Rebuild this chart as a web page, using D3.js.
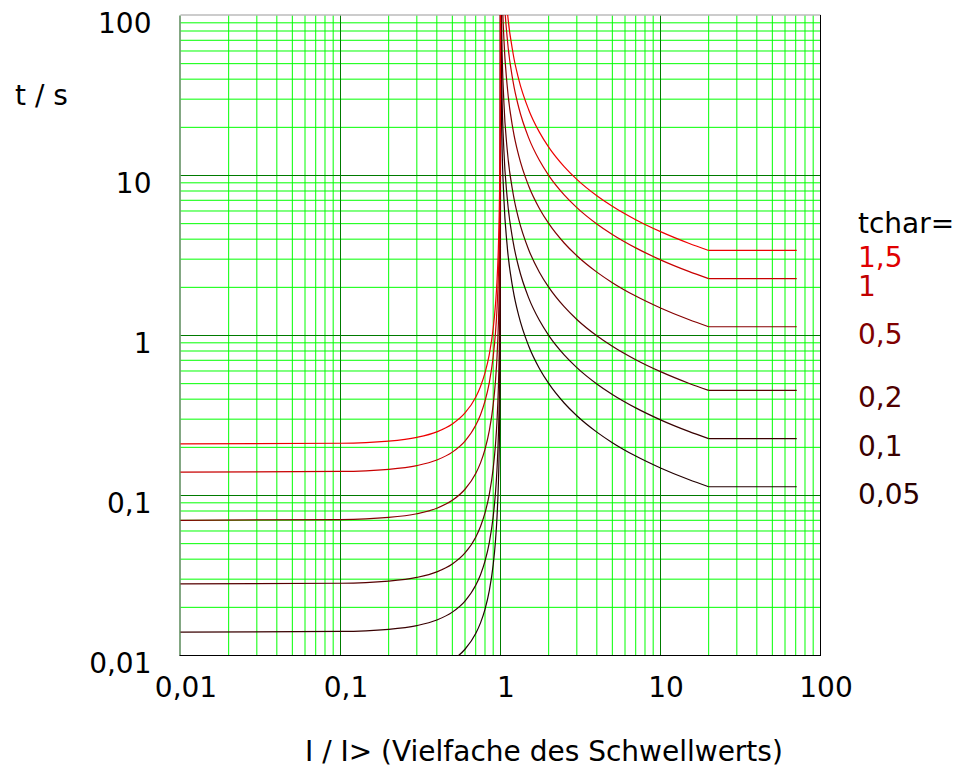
<!DOCTYPE html>
<html>
<head>
<meta charset="utf-8">
<script src="https://cdn.jsdelivr.net/npm/d3@7"></script>
<style>
  html, body { margin: 0; padding: 0; background: #fff; }
  svg { display: block; font-family: "DejaVu Sans", sans-serif; }
</style>
</head>
<body>
<svg id="chart" width="960" height="771"></svg>
<script>
// ---- data ----
const currentMultiples = [0.01, 0.1, 0.2, 0.3, 0.4, 0.5, 0.6, 0.7, 0.75, 0.8, 0.85, 0.9, 0.93, 0.95, 0.97, 0.98, 0.99, 0.995, 0.998, 0.999, 0.9995,
  1,
  1.002, 1.005, 1.01, 1.02, 1.05, 1.1, 1.2, 1.3, 1.5, 1.75, 2, 2.5, 3, 4, 5, 7, 10, 15, 20, 71];

const t_1_5 = [0.2100, 0.2121, 0.2187, 0.2308, 0.2500, 0.2800, 0.3281, 0.4118, 0.4800, 0.5833, 0.7568, 1.1053, 1.5545, 2.1538, 3.5534, 5.3031, 10.553, 21.053, 52.553, 105.05, 210.0,
  10000,
  5254, 2105, 1055, 530.1, 215.1, 110.1, 57.48, 39.92, 25.79, 18.66, 15.04, 11.36, 9.453, 7.470, 6.420, 5.292, 4.457, 3.773, 3.401, 3.401];
const t_1 = [0.1400, 0.1414, 0.1458, 0.1538, 0.1667, 0.1867, 0.2188, 0.2745, 0.3200, 0.3889, 0.5045, 0.7368, 1.0363, 1.4359, 2.3689, 3.5354, 7.035, 14.035, 35.035, 70.035, 140.0,
  10000,
  3503, 1403.5, 703.5, 353.4, 143.4, 73.38, 38.32, 26.61, 17.19, 12.44, 10.03, 7.570, 6.302, 4.980, 4.280, 3.528, 2.971, 2.516, 2.267, 2.267];
const t_0_5 = [0.0700, 0.0707, 0.0729, 0.0769, 0.0833, 0.0933, 0.1094, 0.1373, 0.1600, 0.1944, 0.2523, 0.3684, 0.5182, 0.7180, 1.1845, 1.7677, 3.5176, 7.0175, 17.518, 35.018, 70.0,
  10000,
  1751.5, 701.8, 351.8, 176.7, 71.7, 36.69, 19.16, 13.31, 8.595, 6.220, 5.015, 3.785, 3.151, 2.490, 2.140, 1.764, 1.486, 1.258, 1.134, 1.134];
const t_0_2 = [0.0280, 0.02828, 0.02917, 0.03077, 0.03333, 0.03733, 0.04375, 0.0549, 0.0640, 0.07778, 0.1009, 0.1474, 0.2073, 0.2872, 0.4738, 0.7071, 1.407, 2.807, 7.007, 14.007, 28.0,
  10000,
  700.6, 280.7, 140.7, 70.68, 28.68, 14.68, 7.664, 5.322, 3.438, 2.488, 2.006, 1.514, 1.260, 0.996, 0.856, 0.7056, 0.5942, 0.5031, 0.4535, 0.4535];
const t_0_1 = [0.0140, 0.01414, 0.01458, 0.01538, 0.01667, 0.01867, 0.02188, 0.02745, 0.0320, 0.03889, 0.05045, 0.07368, 0.1036, 0.1436, 0.2369, 0.3535, 0.7035, 1.4035, 3.5035, 7.0035, 14.0,
  10000,
  350.3, 140.35, 70.35, 35.34, 14.34, 7.338, 3.832, 2.661, 1.719, 1.244, 1.003, 0.757, 0.6302, 0.498, 0.428, 0.3528, 0.2971, 0.2516, 0.2267, 0.2267];
const t_0_05 = [0.0070, 0.00707, 0.00729, 0.00769, 0.00833, 0.00933, 0.01094, 0.01373, 0.0160, 0.01944, 0.02523, 0.03684, 0.05182, 0.0718, 0.1184, 0.1768, 0.3518, 0.7018, 1.7518, 3.5018, 7.0,
  10000,
  175.2, 70.18, 35.18, 17.67, 7.17, 3.669, 1.916, 1.331, 0.8595, 0.622, 0.5015, 0.3785, 0.3151, 0.249, 0.214, 0.1764, 0.1486, 0.1258, 0.1134, 0.1134];

const tcharLabels = ["1,5", "1", "0,5", "0,2", "0,1", "0,05"];
const tcharSeries = [t_1_5, t_1, t_0_5, t_0_2, t_0_1, t_0_05];
const tcharColors = ["#ee0000", "#c80000", "#860000", "#560000", "#380000", "#220000"];
const labelColors = ["#e00000", "#c00000", "#800000", "#500000", "#3a0000", "#2a0000"];

const xTickValues = [0.01, 0.1, 1, 10, 100];
const yTickValues = [0.01, 0.1, 1, 10, 100];

// ---- layout ----
const svg = d3.select("#chart");
const L = 180.5, R = 820.5, T = 15.5, B = 655.5;
const x = d3.scaleLog().domain([0.01, 100]).range([L, R]);
const y = d3.scaleLog().domain([0.01, 100]).range([B, T]);
const isDecade = v => Math.abs(Math.log10(v) - Math.round(Math.log10(v))) < 1e-9;

// grid
const gGrid = svg.append("g");
const xt = x.ticks(), yt = y.ticks();
gGrid.selectAll("line.vx").data(xt.filter(v => !isDecade(v))).join("line")
  .attr("class", "vx")
  .attr("x1", d => x(d)).attr("x2", d => x(d)).attr("y1", T).attr("y2", B)
  .attr("stroke", "#00ff00").attr("stroke-width", 1);
gGrid.selectAll("line.hy").data(yt.filter(v => !isDecade(v))).join("line")
  .attr("class", "hy")
  .attr("y1", d => y(d)).attr("y2", d => y(d)).attr("x1", L).attr("x2", R)
  .attr("stroke", "#00ff00").attr("stroke-width", 1);
gGrid.selectAll("line.dx").data(xt.filter(v => isDecade(v) && v > 0.01 && v < 100)).join("line")
  .attr("class", "dx")
  .attr("x1", d => x(d)).attr("x2", d => x(d)).attr("y1", T).attr("y2", B)
  .attr("stroke", "#007a00").attr("stroke-width", 1);
gGrid.selectAll("line.dy").data(yt.filter(v => isDecade(v) && v > 0.01 && v < 100)).join("line")
  .attr("class", "dy")
  .attr("y1", d => y(d)).attr("y2", d => y(d)).attr("x1", L).attr("x2", R)
  .attr("stroke", "#007a00").attr("stroke-width", 1);

// frame
svg.append("line").attr("x1", L).attr("x2", R).attr("y1", T - 0.5).attr("y2", T - 0.5).attr("stroke", "#999").attr("stroke-width", 1);
svg.append("line").attr("x1", L - 0.5).attr("x2", L - 0.5).attr("y1", T).attr("y2", B).attr("stroke", "#5a8a5a").attr("stroke-width", 1.5);
svg.append("line").attr("x1", R).attr("x2", R).attr("y1", T - 0.5).attr("y2", B + 0.5).attr("stroke", "#000").attr("stroke-width", 1);
svg.append("line").attr("x1", L - 1).attr("x2", R + 0.5).attr("y1", B).attr("y2", B).attr("stroke", "#000").attr("stroke-width", 1);

// clip
svg.append("clipPath").attr("id", "plotclip").append("rect")
  .attr("x", L - 0.5).attr("y", T - 0.5).attr("width", R - L + 1).attr("height", B - T + 1);

// curves: smooth inverse-time part up to I/I> = 20, then a straight constant segment
const kneeIdx = currentMultiples.indexOf(20);
const curvePart = d3.line()
  .x(d => x(d[0])).y(d => y(d[1]))
  .curve(d3.curveMonotoneX);
const straightPart = d3.line()
  .x(d => x(d[0])).y(d => y(d[1]));
const gCurves = svg.append("g").attr("clip-path", "url(#plotclip)");
tcharSeries.slice().reverse().forEach((s, ri) => {
  const i = tcharSeries.length - 1 - ri;
  const pts = s.map((v, k) => [currentMultiples[k], v]);
  gCurves.append("path").attr("d", curvePart(pts.slice(0, kneeIdx + 1)))
    .attr("fill", "none").attr("stroke", tcharColors[i]).attr("stroke-width", 1.2);
  gCurves.append("path").attr("d", straightPart(pts.slice(kneeIdx)))
    .attr("fill", "none").attr("stroke", tcharColors[i]).attr("stroke-width", 1.2);
});

// axes (labels only)
const fmt = d => String(d).replace(".", ",");
const ax = svg.append("g").attr("transform", `translate(0,${B})`)
  .call(d3.axisBottom(x).tickValues(xTickValues).tickFormat(fmt).tickSize(0));
ax.select(".domain").remove();
ax.selectAll("text").attr("y", 41).attr("dy", null).attr("dx", 5)
  .attr("font-size", 28).attr("font-family", "DejaVu Sans").attr("fill", "#000");

const ay = svg.append("g").attr("transform", `translate(${L},0)`)
  .call(d3.axisLeft(y).tickValues(yTickValues).tickFormat(fmt).tickSize(0));
ay.select(".domain").remove();
ay.selectAll("text").attr("x", -29).attr("dy", null).attr("y", 17)
  .attr("font-size", 28).attr("font-family", "DejaVu Sans").attr("fill", "#000");

// axis titles
svg.append("text").attr("x", 15).attr("y", 105).attr("font-size", 28).attr("fill", "#000").text("t / s");
svg.append("text").attr("x", 305).attr("y", 761).attr("font-size", 28).attr("fill", "#000").text("I / I> (Vielfache des Schwellwerts)");

// legend
svg.append("text").attr("x", 858).attr("y", 233).attr("font-size", 28).attr("fill", "#000").text("tchar=");
svg.selectAll("text.leg").data(tcharLabels).join("text").attr("class", "leg")
  .attr("x", 858)
  .attr("y", (d, i) => y(tcharSeries[i][tcharSeries[i].length - 1]) + 17)
  .attr("font-size", 28)
  .attr("fill", (d, i) => labelColors[i])
  .text(d => d);
</script>
</body>
</html>
